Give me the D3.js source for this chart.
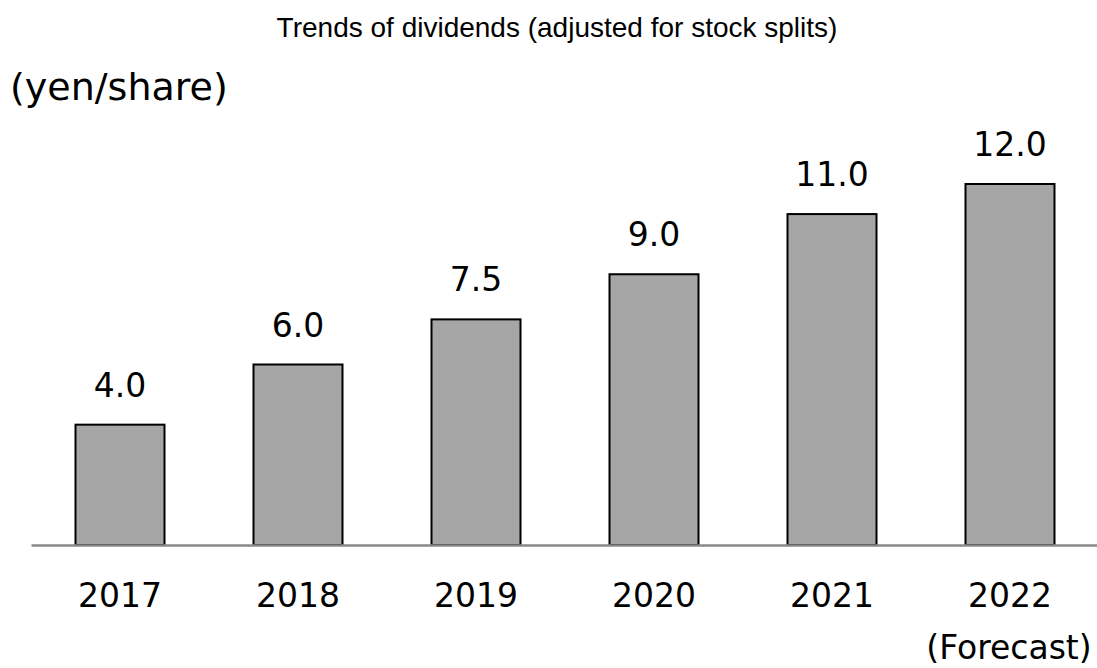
<!DOCTYPE html>
<html>
<head>
<meta charset="utf-8">
<script src="https://cdn.jsdelivr.net/npm/d3@7"></script>
<style>
  body { margin: 0; background: #fff; }
  text { fill: #000; }
  .title { font-family: "Liberation Sans", Arial, sans-serif; font-size: 28px; }
  .lbl { font-family: "DejaVu Sans", Verdana, sans-serif; font-size: 33px; }
  .unit { font-family: "DejaVu Sans", Verdana, sans-serif; font-size: 38px; }
</style>
</head>
<body>
<div id="chart"></div>
<script>
// Data
var years = ["2017", "2018", "2019", "2020", "2021", "2022"];
var dividends = [4.0, 6.0, 7.5, 9.0, 11.0, 12.0];
var valueLabels = ["4.0", "6.0", "7.5", "9.0", "11.0", "12.0"];
var yDomain = [0, 12];

var width = 1097;
var height = 668;
var baseY = 545;

var svg = d3
  .select("#chart")
  .append("svg")
  .attr("width", width)
  .attr("height", height);

// Title
svg
  .append("text")
  .attr("class", "title")
  .attr("x", 557)
  .attr("y", 37)
  .attr("text-anchor", "middle")
  .text("Trends of dividends (adjusted for stock splits)");

// Unit label
svg
  .append("text")
  .attr("class", "unit")
  .attr("x", 10)
  .attr("y", 100)
  .text("(yen/share)");

// Scales
var xScale = d3
  .scaleBand()
  .domain(years)
  .range([31, 1099])
  .paddingInner(0.5)
  .paddingOuter(0.25);

var yScale = d3
  .scaleLinear()
  .domain(yDomain)
  .range([baseY, 184]);

// Bars
svg
  .selectAll("rect.bar")
  .data(years)
  .enter()
  .append("rect")
  .attr("class", "bar")
  .attr("x", function(d) { return xScale(d); })
  .attr("y", function(d, i) { return yScale(dividends[i]); })
  .attr("width", xScale.bandwidth())
  .attr("height", function(d, i) { return baseY - yScale(dividends[i]); })
  .attr("fill", "#a6a6a6")
  .attr("stroke", "#000")
  .attr("stroke-width", 2);

// Value labels
svg
  .selectAll("text.val")
  .data(years)
  .enter()
  .append("text")
  .attr("class", "lbl val")
  .attr("x", function(d) { return xScale(d) + xScale.bandwidth() / 2; })
  .attr("y", function(d, i) { return yScale(dividends[i]) - 28; })
  .attr("text-anchor", "middle")
  .text(function(d, i) { return valueLabels[i]; });

// X axis (baseline + year labels)
var xAxis = d3.axisBottom(xScale).tickSize(0).tickPadding(0);
var axisG = svg
  .append("g")
  .attr("transform", "translate(0," + baseY + ")")
  .call(xAxis);
axisG.select(".domain")
  .attr("stroke", "#898989")
  .attr("stroke-width", 2.5);
axisG.selectAll(".tick text")
  .attr("class", "lbl")
  .attr("font-family", null)
  .attr("font-size", null)
  .attr("dy", null)
  .attr("y", 62)
  .attr("fill", "#000");

// Forecast note under the last year
svg
  .append("text")
  .attr("class", "lbl")
  .style("font-size", "33px")
  .attr("x", xScale("2022") + xScale.bandwidth() / 2 - 1)
  .attr("y", 659)
  .attr("text-anchor", "middle")
  .text("(Forecast)");
</script>
</body>
</html>
